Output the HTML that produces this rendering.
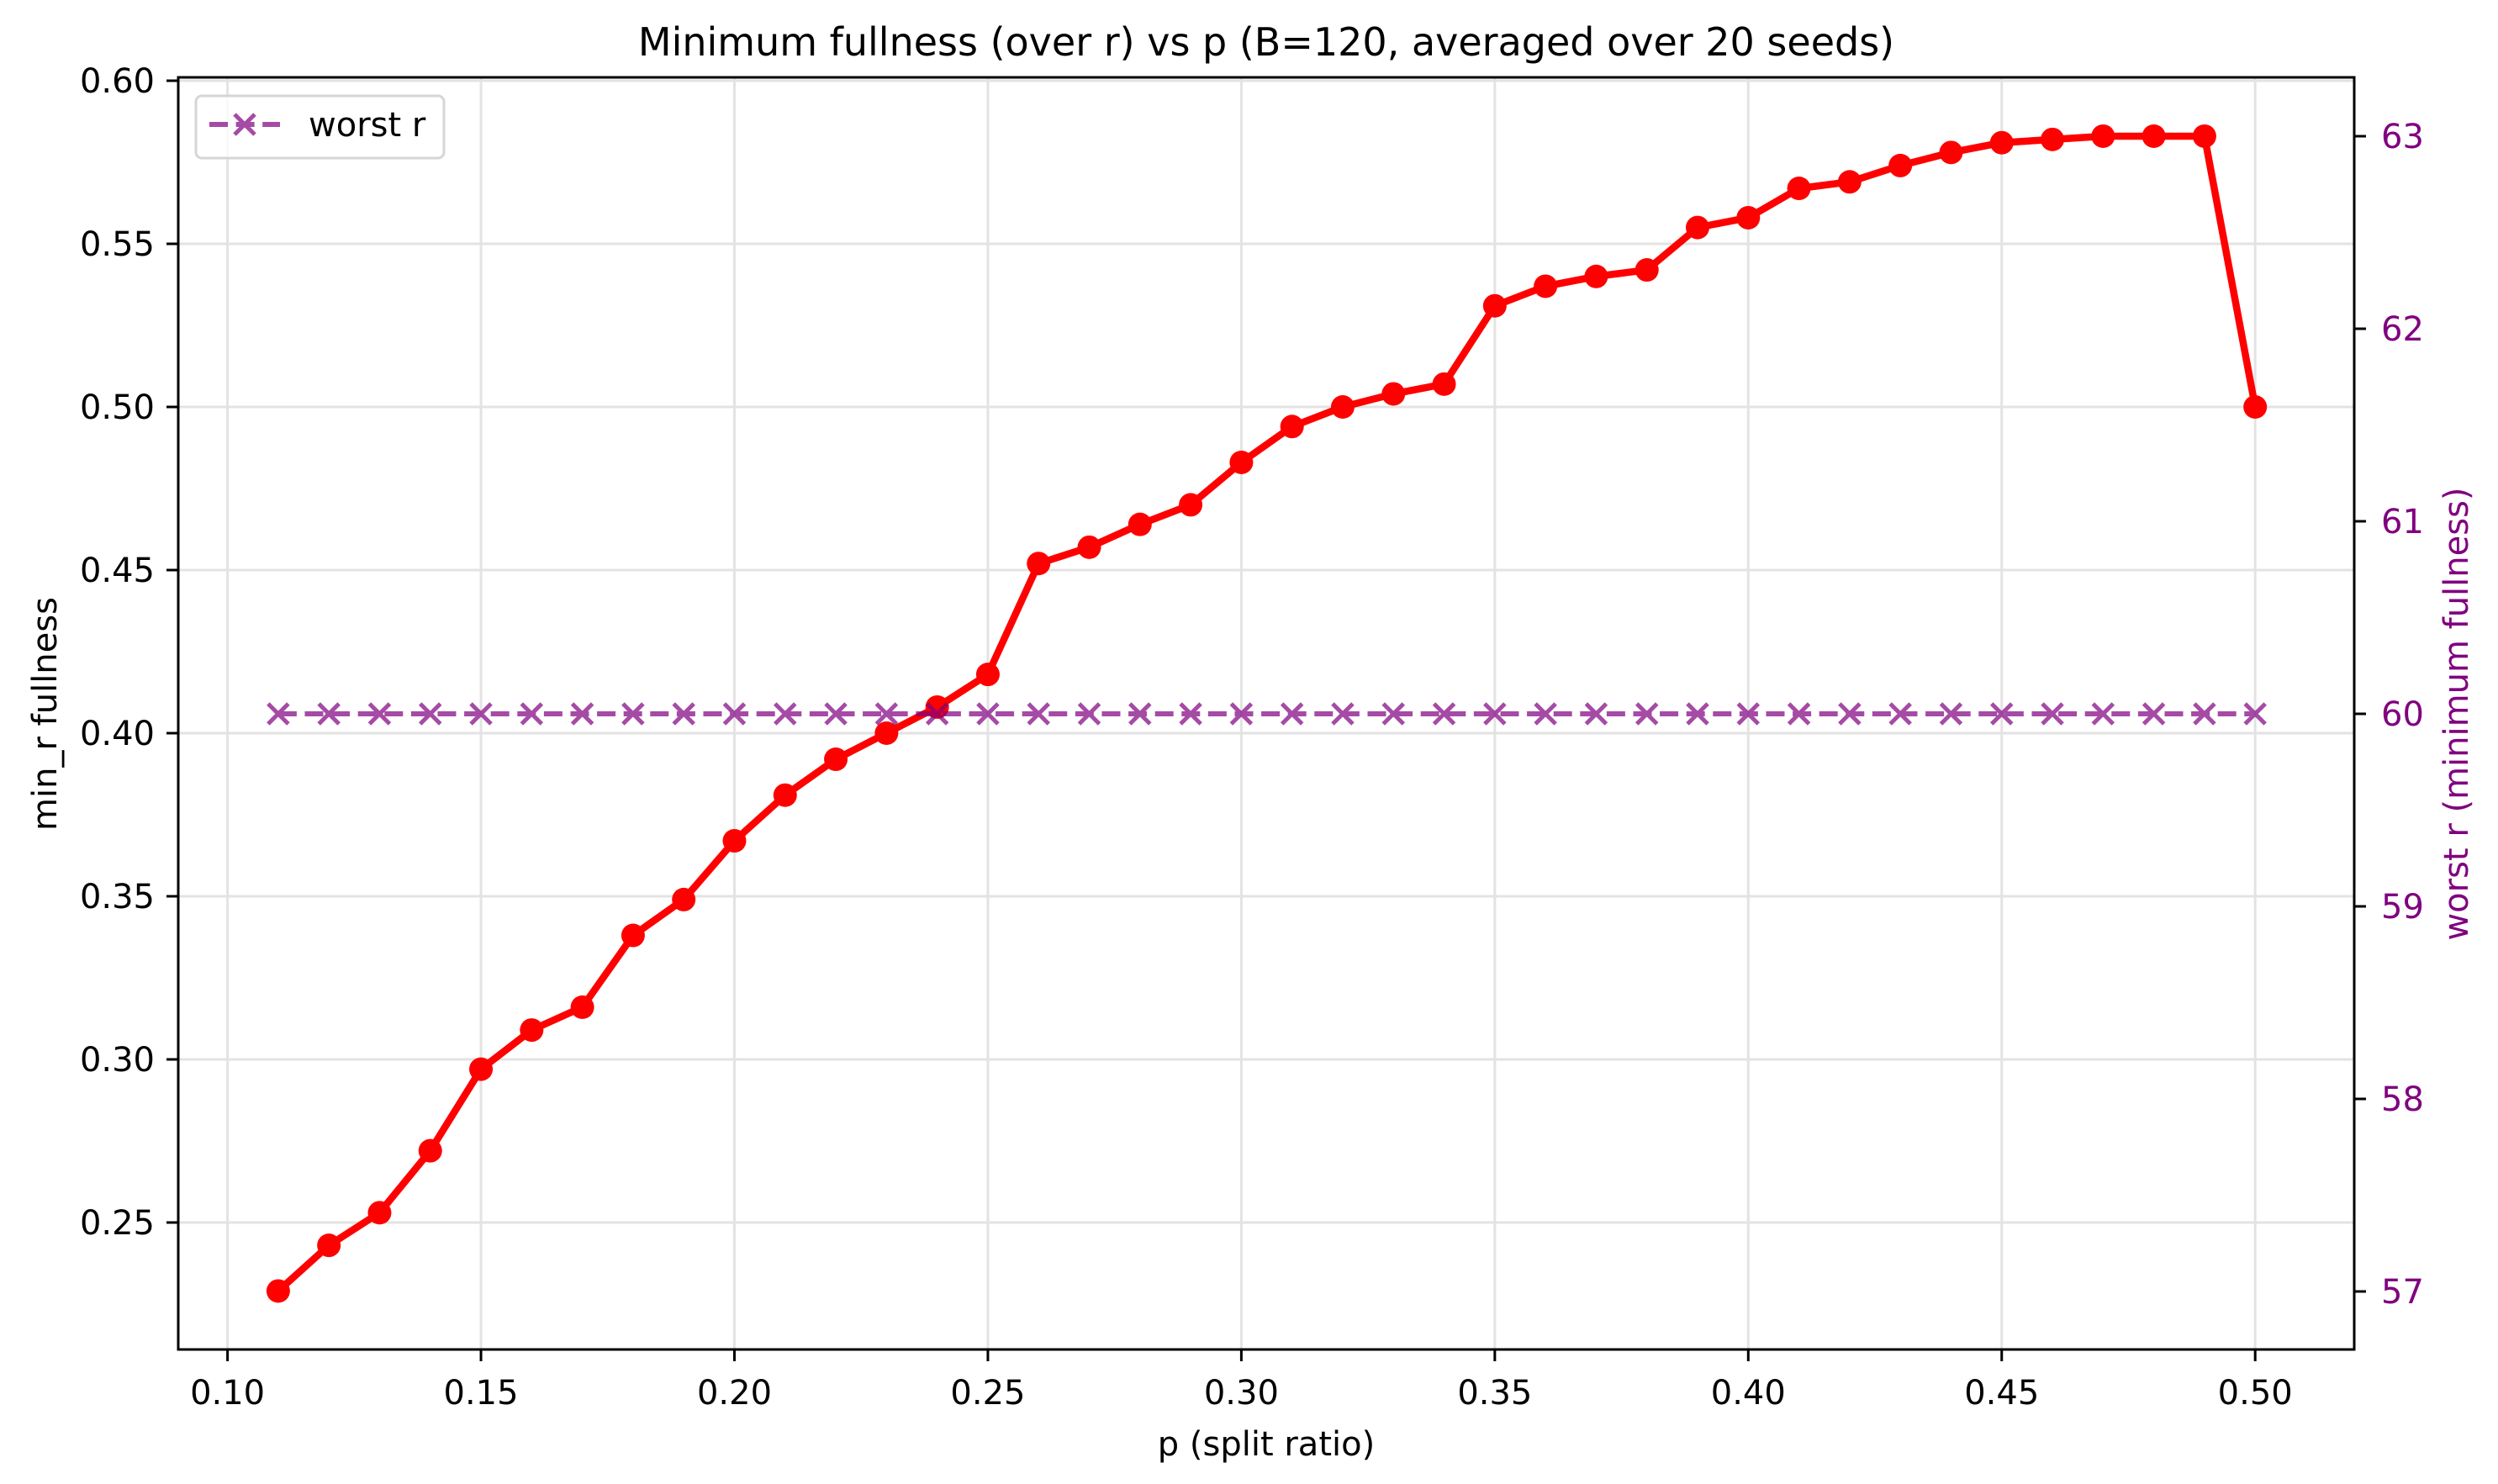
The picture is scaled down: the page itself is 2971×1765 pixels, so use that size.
<!DOCTYPE html>
<html><head><meta charset="utf-8"><style>
html,body{margin:0;padding:0;background:#fff;}
svg{display:block;font-family:"DejaVu Sans","Liberation Sans",sans-serif;}
</style></head><body>
<svg id="chart" width="2971" height="1765" viewBox="0 0 2971 1765" xmlns="http://www.w3.org/2000/svg"></svg>
<script>
const pValues = [0.11,0.12,0.13,0.14,0.15,0.16,0.17,0.18,0.19,0.20,0.21,0.22,0.23,0.24,0.25,0.26,0.27,0.28,0.29,0.30,0.31,0.32,0.33,0.34,0.35,0.36,0.37,0.38,0.39,0.40,0.41,0.42,0.43,0.44,0.45,0.46,0.47,0.48,0.49,0.50];
const minFullness = [0.229,0.243,0.253,0.272,0.297,0.309,0.316,0.338,0.349,0.367,0.381,0.392,0.400,0.408,0.418,0.452,0.457,0.464,0.470,0.483,0.494,0.500,0.504,0.507,0.531,0.537,0.540,0.542,0.555,0.558,0.567,0.569,0.574,0.578,0.581,0.582,0.583,0.583,0.583,0.500];
const worstR = [60,60,60,60,60,60,60,60,60,60,60,60,60,60,60,60,60,60,60,60,60,60,60,60,60,60,60,60,60,60,60,60,60,60,60,60,60,60,60,60];
const xTicks = [0.10,0.15,0.20,0.25,0.30,0.35,0.40,0.45,0.50];
const yTicks = [0.25,0.30,0.35,0.40,0.45,0.50,0.55,0.60];
const y2Ticks = [57,58,59,60,61,62,63];

const L=212,R=2800,T=92,B=1605;
const xs = v => 270.6 + (v-0.10)/0.01*60.29;
const ys = v => 96 + (0.60-v)/0.05*194;
const y2s = v => 849 + (60-v)*229;

const svg=document.getElementById('chart');
const NS='http://www.w3.org/2000/svg';
function mk(tag,attrs,parent){const e=document.createElementNS(NS,tag);for(const k in attrs)e.setAttribute(k,attrs[k]);(parent||svg).appendChild(e);return e;}

const grid=mk('g',{});


xTicks.forEach(t=>{mk('line',{x1:xs(t),x2:xs(t),y1:T,y2:B,stroke:'#e3e3e3','stroke-width':3},grid);});
yTicks.forEach(t=>{mk('line',{x1:L,x2:R,y1:ys(t),y2:ys(t),stroke:'#e3e3e3','stroke-width':3},grid);});

const red=mk('g',{});


mk('polyline',{points:pValues.map((p,i)=>xs(p)+','+ys(minFullness[i])).join(' '),fill:'none',stroke:'#ff0000','stroke-width':8.5,'stroke-linejoin':'round'},red);
pValues.forEach((p,i)=>{
  const c=mk('circle',{cx:xs(p),cy:ys(minFullness[i]),r:14,fill:'#ff0000'},red);
  
  
});

const pur=mk('g',{opacity:0.7});


mk('polyline',{points:pValues.map((p,i)=>xs(p)+','+y2s(worstR[i])).join(' '),fill:'none',stroke:'#800080','stroke-width':6,'stroke-dasharray':'22 9.6'},pur);
pValues.forEach((p,i)=>{
  const cx=xs(p),cy=y2s(worstR[i]),d=12;
  const m=mk('path',{d:`M${cx-d},${cy-d}L${cx+d},${cy+d}M${cx-d},${cy+d}L${cx+d},${cy-d}`,stroke:'#800080','stroke-width':5,fill:'none'},pur);
  
  
});

const sp=mk('rect',{x:L,y:T,width:R-L,height:B-T,fill:'none',stroke:'#000','stroke-width':3});



xTicks.forEach(t=>{
  mk('line',{x1:xs(t),x2:xs(t),y1:B,y2:B+14,stroke:'#000','stroke-width':3});
  const tx=mk('text',{x:xs(t),y:1670,'font-size':40,'text-anchor':'middle',fill:'#000'});
  tx.textContent=t.toFixed(2);
  
  
});
yTicks.forEach(t=>{
  mk('line',{x1:L-14,x2:L,y1:ys(t),y2:ys(t),stroke:'#000','stroke-width':3});
  const tx=mk('text',{x:184,y:ys(t)+14,'font-size':40,'text-anchor':'end',fill:'#000'});
  tx.textContent=t.toFixed(2);
  
  
});
y2Ticks.forEach(t=>{
  mk('line',{x1:R,x2:R+14,y1:y2s(t),y2:y2s(t),stroke:'#000','stroke-width':3});
  const tx=mk('text',{x:2832,y:y2s(t)+14,'font-size':40,'text-anchor':'start',fill:'#800080'});
  tx.textContent=String(t);
  
  
});
</script>
<script>
(function(){
const svg=document.getElementById('chart');const NS='http://www.w3.org/2000/svg';
function mk(tag,attrs){const e=document.createElementNS(NS,tag);for(const k in attrs)e.setAttribute(k,attrs[k]);svg.appendChild(e);return e;}
let t=mk('text',{x:1506,y:66,'font-size':46,'text-anchor':'middle',fill:'#000'});
t.textContent='Minimum fullness (over r) vs p (B=120, averaged over 20 seeds)';


t=mk('text',{x:1506,y:1731,'font-size':40,'text-anchor':'middle',fill:'#000'});
t.textContent='p (split ratio)';


t=mk('text',{x:0,y:0,'font-size':40,'text-anchor':'middle',fill:'#000',transform:'translate(67,849) rotate(-90)'});
t.textContent='min_r fullness';


t=mk('text',{x:0,y:0,'font-size':40,'text-anchor':'middle',fill:'#800080',transform:'translate(2935,849) rotate(-90)'});
t.textContent='worst r (minimum fullness)';


const lg=mk('rect',{x:233,y:114,width:295,height:74,rx:7,fill:'#fff','fill-opacity':0.8,stroke:'#d6d6d6','stroke-width':3});


const g=mk('g',{opacity:0.7});


const ly=148;
const ln=document.createElementNS(NS,'line');
ln.setAttribute('x1',249);ln.setAttribute('x2',333);ln.setAttribute('y1',ly);ln.setAttribute('y2',ly);
ln.setAttribute('stroke','#800080');ln.setAttribute('stroke-width',6);ln.setAttribute('stroke-dasharray','22 9.6');
g.appendChild(ln);
const p=document.createElementNS(NS,'path');
p.setAttribute('d',`M279,${ly-12}L303,${ly+12}M279,${ly+12}L303,${ly-12}`);p.setAttribute('stroke','#800080');p.setAttribute('stroke-width',5);
g.appendChild(p);
t=mk('text',{x:367,y:162,'font-size':40,fill:'#000'});
t.textContent='worst r';


})();
</script>
</body></html>
